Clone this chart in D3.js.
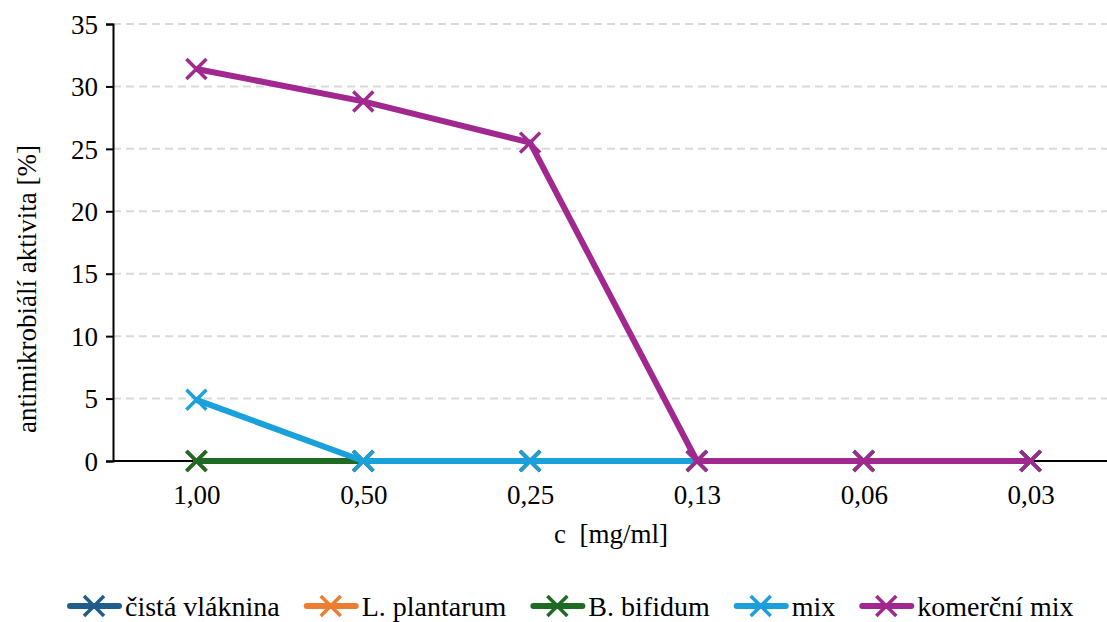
<!DOCTYPE html>
<html>
<head>
<meta charset="utf-8">
<script src="https://cdn.jsdelivr.net/npm/d3@7"></script>
<style>
  body { margin: 0; background: #fff; }
  svg text { font-family: "Liberation Serif", "Times New Roman", serif; fill: #000; }
</style>
</head>
<body>
<div id="container"></div>
<script>
// data
var categories = ["1,00", "0,50", "0,25", "0,13", "0,06", "0,03"]
var seriesNames = ["čistá vláknina", "L. plantarum", "B. bifidum", "mix", "komerční mix"]
var cistaVlaknina = [0, 0, 0, 0, 0, 0]
var lPlantarum = [0, 0, 0, 0, 0, 0]
var bBifidum = [0, 0, 0, 0, 0, 0]
var mix = [4.9, 0, 0, 0, 0, 0]
var komercniMix = [31.4, 28.8, 25.5, 0, 0, 0]
var yTicks = [0, 5, 10, 15, 20, 25, 30, 35]
var colors = ["#1f5d8a", "#ed7d31", "#1e6b24", "#1aa0db", "#a0288f"]

var width = 1107
var height = 622
var margin = {left: 113, right: 0, top: 24, bottom: 161}
var fontStack = "'Liberation Serif', 'Times New Roman', serif"

var series = [cistaVlaknina, lPlantarum, bBifidum, mix, komercniMix]

var svg = d3.select("#container")
  .append("svg")
  .attr("width", width)
  .attr("height", height)

var x = d3.scalePoint()
  .domain(categories)
  .range([margin.left, 1114])
  .padding(0.5)

var y = d3.scaleLinear()
  .domain([0, 35])
  .range([height - margin.bottom, margin.top])

// gridlines
svg.append("g")
  .selectAll("line")
  .data(yTicks.filter(function(d){ return d > 0 }))
  .enter()
  .append("line")
  .attr("x1", margin.left)
  .attr("x2", width)
  .attr("y1", function(d){ return y(d) })
  .attr("y2", function(d){ return y(d) })
  .attr("stroke", "#d9d9d9")
  .attr("stroke-width", 2)
  .attr("stroke-dasharray", "8,5")

// y axis
var yAxis = svg.append("g")
  .attr("transform", "translate(" + margin.left + ",0)")
  .call(d3.axisLeft(y).tickValues(yTicks).tickSize(7).tickPadding(8))
yAxis.attr("font-family", null)
yAxis.select(".domain").attr("stroke", "#000").attr("stroke-width", 2)
yAxis.selectAll(".tick line").attr("stroke", "#000").attr("stroke-width", 2)
yAxis.selectAll("text").style("font-size", "27px").style("font-family", fontStack)
  .attr("dy", "0.34em")

// x axis
var xAxis = svg.append("g")
  .attr("transform", "translate(0," + y(0) + ")")
  .call(d3.axisBottom(x).tickSize(0).tickPadding(24))
xAxis.attr("font-family", null)
xAxis.select(".domain").attr("d", "M" + margin.left + ",0H" + width)
  .attr("stroke", "#000").attr("stroke-width", 2)
xAxis.selectAll("text").style("font-size", "27px").style("font-family", fontStack)
  .attr("dy", "0.7em")

// axis titles
svg.append("text")
  .attr("x", 611)
  .attr("y", 543)
  .attr("text-anchor", "middle")
  .style("font-size", "27px")
  .style("font-family", fontStack)
  .style("white-space", "pre")
  .text("c  [mg/ml]")

svg.append("text")
  .attr("transform", "translate(36,289) rotate(-90)")
  .attr("text-anchor", "middle")
  .style("font-size", "27px")
  .style("font-family", fontStack)
  .text("antimikrobiálí aktivita [%]")

// lines
var line = d3.line()
  .x(function(d, i){ return x(categories[i]) })
  .y(function(d){ return y(d) })

function cross(g, cx, cy, color, s) {
  g.append("path")
    .attr("d", "M" + (cx - s) + "," + (cy - s) + "L" + (cx + s) + "," + (cy + s) +
      "M" + (cx - s) + "," + (cy + s) + "L" + (cx + s) + "," + (cy - s))
    .attr("stroke", color)
    .attr("stroke-width", 3.5)
    .attr("fill", "none")
}

series.forEach(function(vals, k) {
  var g = svg.append("g")
  g.append("path")
    .datum(vals)
    .attr("d", line)
    .attr("fill", "none")
    .attr("stroke", colors[k])
    .attr("stroke-width", 6)
    .attr("stroke-linejoin", "round")
  vals.forEach(function(v, i) {
    cross(g, x(categories[i]), y(v), colors[k], 10)
  })
})

// legend
var legend = svg.append("g").attr("transform", "translate(0,606)")
var lx = 67
seriesNames.forEach(function(name, k) {
  var item = legend.append("g")
  item.append("line")
    .attr("x1", lx + 3).attr("x2", lx + 52)
    .attr("y1", 0).attr("y2", 0)
    .attr("stroke", colors[k])
    .attr("stroke-width", 6)
    .attr("stroke-linecap", "round")
  cross(item, lx + 27, 0, colors[k], 10)
  var t = item.append("text")
    .attr("x", lx + 58)
    .attr("y", 10)
    .style("font-size", "28px")
    .style("font-family", fontStack)
    .text(name)
  lx = lx + 58 + t.node().getComputedTextLength() + 24
})
</script>
</body>
</html>
